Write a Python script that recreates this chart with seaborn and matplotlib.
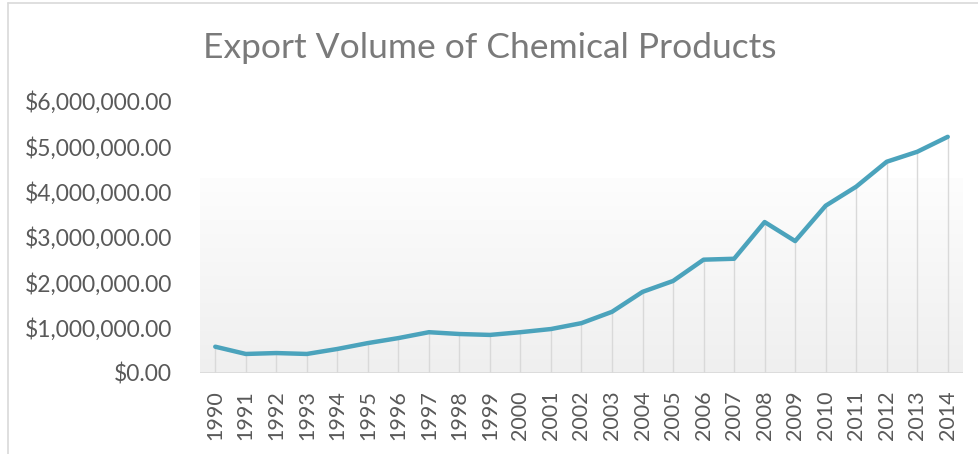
import numpy as np
import pandas as pd
import matplotlib.pyplot as plt
import seaborn as sns
from matplotlib.ticker import FuncFormatter
from matplotlib.colors import LinearSegmentedColormap

# data
years = [str(y) for y in range(1990, 2015)]
volumes = [580000, 420000, 440000, 420000, 530000, 660000, 770000, 900000,
           860000, 840000, 900000, 970000, 1100000, 1350000, 1790000, 2030000,
           2500000, 2520000, 3330000, 2910000, 3690000, 4110000, 4660000,
           4880000, 5210000]
yticks = [0, 1000000, 2000000, 3000000, 4000000, 5000000, 6000000]

df = pd.DataFrame({"year": years, "volume": volumes})

sns.set_theme(style="white")
plt.rcParams['font.family'] = ['Lato', 'DejaVu Sans']
text_grey = '#595959'
line_col = '#4ba3bc'

fig = plt.figure(figsize=(9.79, 4.54), dpi=100)
ax = fig.add_axes([200 / 979, 1 - 373 / 454, 763 / 979, 272 / 454])

# subtle vertical gradient band behind the plot
grad = np.linspace(0, 1, 256).reshape(-1, 1)
ax.imshow(grad, extent=[-0.5, len(years) - 0.5, 0, 4300000], aspect='auto',
          cmap=LinearSegmentedColormap.from_list('g', ['#efefef', '#fdfdfd']),
          origin='lower', zorder=0)

# drop lines from each point to the baseline
ax.vlines(range(len(years)), 0, volumes, color='#d9d9d9', lw=1, zorder=1)
ax.axhline(0, color='#d9d9d9', lw=1.2, zorder=1)

sns.lineplot(data=df, x="year", y="volume", ax=ax, color=line_col, lw=3.2,
             zorder=3, sort=False)

ax.set_xlim(-0.5, len(years) - 0.5)
ax.set_ylim(0, 6000000)
ax.set_yticks(yticks)
ax.yaxis.set_major_formatter(FuncFormatter(lambda v, p: f"${v:,.2f}"))
ax.set_xticks(range(len(years)))
ax.set_xticklabels(years, rotation=90)
ax.tick_params(axis='both', length=0, colors=text_grey)
ax.tick_params(axis='y', pad=20, labelsize=16.5)
ax.tick_params(axis='x', pad=12.5, labelsize=15.5)
ax.set_xlabel("")
ax.set_ylabel("")
for s in ax.spines.values():
    s.set_visible(False)
ax.grid(False)

fig.text(0.5, 1 - 48 / 454, "Export Volume of Chemical Products", ha='center',
         va='center', fontsize=25.5, color='#7a7a7a')

# chart frame
fig.add_artist(plt.Line2D([8 / 979, 8 / 979], [0, 1 - 3 / 454], color='#d9d9d9', lw=1.2))
fig.add_artist(plt.Line2D([8 / 979, 1], [1 - 3 / 454, 1 - 3 / 454], color='#d9d9d9', lw=1.2))

fig.savefig("out.png", dpi=100)
